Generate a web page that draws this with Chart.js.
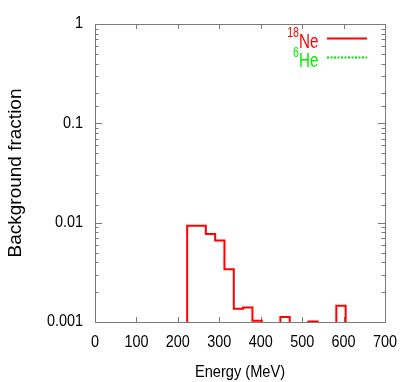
<!DOCTYPE html>
<html>
<head>
<meta charset="utf-8">
<script src="https://cdn.jsdelivr.net/npm/chart.js@4/dist/chart.umd.min.js"></script>
<style>
  html, body { margin: 0; padding: 0; background: #fff; }
  #wrap { width: 409px; height: 382px; }
</style>
</head>
<body>
<div id="wrap"><canvas id="bgChart"></canvas></div>
<script>
/* ---------- data ---------- */
const binEdges = [222.5, 245, 267.5, 290, 312.5, 335, 357.5, 380, 402.5, 425, 447.5, 470, 492.5, 515, 537.5, 560, 582.5, 605];
const ne18Fraction = [0.0093, 0.0093, 0.0077, 0.0066, 0.0034, 0.00136, 0.0014, 0.00103, 0, 0, 0.00112, 0, 0, 0.00101, 0, 0, 0.00146];
const he6Fraction = [0, 0, 0, 0, 0, 0, 0, 0, 0, 0, 0, 0, 0, 0, 0, 0, 0];
const xTicks = [0, 100, 200, 300, 400, 500, 600, 700];
const yTicks = [0.001, 0.01, 0.1, 1];
const xTitle = 'Energy (MeV)';

const sans = '"Liberation Sans", Arial, sans-serif';
const FLOOR = 0.0001; // empty bins sit below the axis and get clipped

// turn bin contents into a step outline
const histPoints = (vals) => {
  const pts = [{ x: binEdges[0], y: FLOOR }];
  vals.forEach((v, i) => pts.push({ x: binEdges[i], y: v > 0 ? v : FLOOR }));
  pts.push({ x: binEdges[binEdges.length - 1], y: FLOOR });
  return pts;
};

// horizontal text in the original is squeezed sideways
const squeezed = (ctx, txt, x, y, size, align, sx) => {
  ctx.save();
  ctx.font = size + 'px ' + sans;
  ctx.textAlign = align;
  ctx.translate(x, y);
  ctx.scale(sx || 0.76, 1);
  ctx.fillText(txt, 0, 0);
  ctx.restore();
};

/* ---------- frame, inward ticks, labels, legend ---------- */
const framePlugin = {
  id: 'frame',
  beforeDatasetsDraw(chart) {
    const { ctx, chartArea: a, scales } = chart;
    ctx.save();
    ctx.strokeStyle = '#7a7a7a';
    ctx.lineWidth = 1;
    ctx.strokeRect(a.left + 0.5, a.top + 0.5, a.right - a.left, a.bottom - a.top);
    ctx.beginPath();
    xTicks.forEach(v => {
      const px = Math.round(scales.x.getPixelForValue(v)) + 0.5;
      ctx.moveTo(px, a.bottom); ctx.lineTo(px, a.bottom - 5);
      ctx.moveTo(px, a.top); ctx.lineTo(px, a.top + 5);
    });
    scales.y.ticks.forEach(t => {
      const lg = Math.log10(t.value);
      const major = Math.abs(lg - Math.round(lg)) < 1e-6;
      const len = major ? 7 : 3.5;
      const py = Math.round(scales.y.getPixelForValue(t.value)) + 0.5;
      ctx.moveTo(a.left, py); ctx.lineTo(a.left + len, py);
      ctx.moveTo(a.right, py); ctx.lineTo(a.right - len, py);
    });
    ctx.stroke();

    // tick labels
    ctx.fillStyle = '#000';
    ctx.textBaseline = 'middle';
    xTicks.forEach(v => squeezed(ctx, String(v), scales.x.getPixelForValue(v), a.bottom + 21, 16, 'center', 0.9));
    yTicks.forEach(v => squeezed(ctx, String(v), a.left - 12, scales.y.getPixelForValue(v), 16, 'right', 0.9));
    ctx.textBaseline = 'alphabetic';
    squeezed(ctx, xTitle, (a.left + a.right) / 2, 377, 17, 'center', 0.86);
    ctx.restore();
  },
  afterDraw(chart) {
    const { ctx } = chart;
    ctx.save();
    ctx.textBaseline = 'alphabetic';
    // 18Ne
    ctx.fillStyle = '#ff0000';
    squeezed(ctx, '18', 299, 37, 14, 'right');
    squeezed(ctx, 'Ne', 299, 48, 20, 'left');
    ctx.strokeStyle = '#ff0000';
    ctx.lineWidth = 2;
    ctx.beginPath(); ctx.moveTo(327, 38.5); ctx.lineTo(367, 38.5); ctx.stroke();
    // 6He
    ctx.fillStyle = '#00ee00';
    squeezed(ctx, '6', 299, 57, 14, 'right');
    squeezed(ctx, 'He', 299, 67, 20, 'left');
    ctx.strokeStyle = '#00dd00';
    ctx.setLineDash([2, 1.5]);
    ctx.beginPath(); ctx.moveTo(327, 57.5); ctx.lineTo(367, 57.5); ctx.stroke();
    ctx.restore();
  }
};

new Chart(document.getElementById('bgChart'), {
  type: 'line',
  plugins: [framePlugin],
  data: {
    datasets: [
      {
        label: '18Ne',
        data: histPoints(ne18Fraction),
        borderColor: '#ff0000',
        borderWidth: 2,
        pointRadius: 0,
        stepped: 'before',
        fill: false,
        clip: 0
      },
      {
        label: '6He',
        data: histPoints(he6Fraction),
        borderColor: '#00dd00',
        borderWidth: 2,
        borderDash: [2, 1.5],
        pointRadius: 0,
        stepped: 'before',
        fill: false,
        clip: 0
      }
    ]
  },
  options: {
    responsive: true,
    maintainAspectRatio: false,
    animation: false,
    layout: { padding: { top: 24, right: 24, left: 0, bottom: 0 } },
    plugins: { legend: { display: false }, tooltip: { enabled: false } },
    scales: {
      x: {
        type: 'linear',
        min: 0, max: 700,
        grid: { display: false, drawTicks: false },
        border: { display: false },
        afterBuildTicks: (s) => { s.ticks = xTicks.map(v => ({ value: v })); },
        afterFit: (s) => { s.height = 60; },
        ticks: { display: false }
      },
      y: {
        type: 'logarithmic',
        min: 0.001, max: 1,
        grid: { display: false, drawTicks: false },
        border: { display: false },
        afterFit: (s) => { s.width = 95; },
        ticks: { display: false, autoSkip: false },
        title: { display: true, text: 'Background fraction', color: '#000', padding: { top: 4, bottom: 0 }, font: { family: sans, size: 19 } }
      }
    }
  }
});
</script>
</body>
</html>
